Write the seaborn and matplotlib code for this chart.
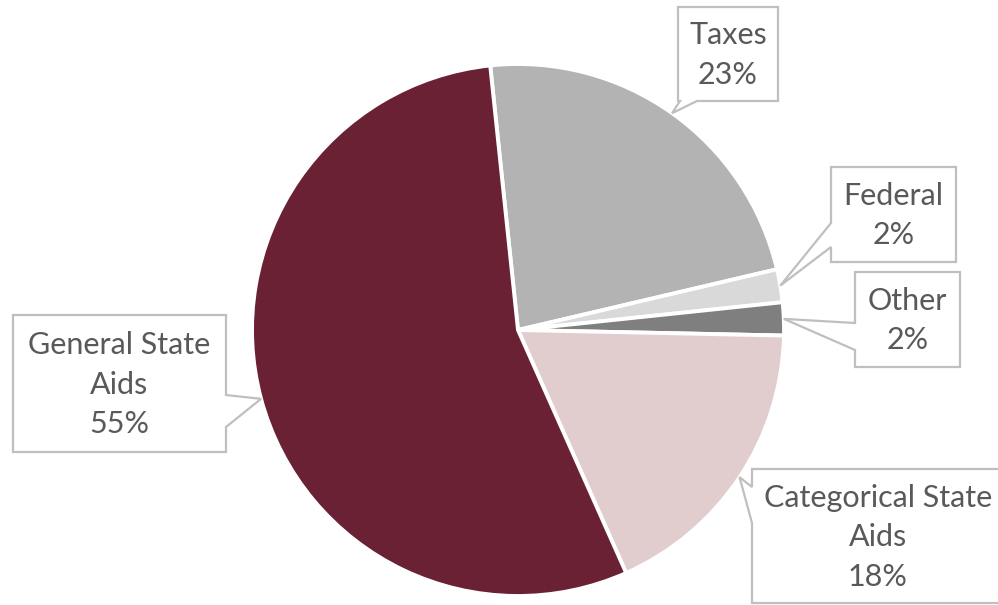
import numpy as np
import matplotlib
matplotlib.use("Agg")
import matplotlib.pyplot as plt
from matplotlib.patches import Polygon
import seaborn as sns

# Revenue sources, clockwise from the top of the pie
categories = ["Taxes", "Federal", "Other", "Categorical State\nAids", "General State\nAids"]
shares = [23, 2, 2, 18, 55]
colors = ["#B3B3B3", "#D9D9D9", "#7F7F7F", "#E1CDCD", "#6B2134"]
explode = [0, 0, 0.02, 0, 0]

sns.set_style("white")
plt.rcParams["font.family"] = ["Lato", "DejaVu Sans"]

W, H = 998, 605
fig = plt.figure(figsize=(W / 100, H / 100), dpi=100)
ax = fig.add_axes([0, 0, 1, 1])

cx, cy, r = 518, 330, 266  # pie centre / radius in pixel units (y measured downwards)
start = 96
wedges, _ = ax.pie(shares, colors=colors, startangle=start, counterclock=False,
                   center=(cx, H - cy), radius=r, explode=explode,
                   wedgeprops=dict(edgecolor="white", linewidth=2.8))
ax.set_xlim(0, W)
ax.set_ylim(0, H)
ax.set_aspect("equal")
ax.axis("off")

# callout boxes: (left, top, right, bottom), side of pointer, pointer base span
callouts = [
    ((678, 7, 778, 101), "bottom", (680, 697)),
    ((831, 167, 956, 262), "left", (223, 247)),
    ((855, 272, 960, 367), "left", (323, 350)),
    ((752, 469, 1004, 603), "left", (487, 523)),
    ((13, 315, 226, 452), "right", (395, 427)),
]


def bubble(box, side, span, tip):
    L, T, R, B = box
    a1, a2 = span
    if side == "bottom":
        pts = [(L, T), (R, T), (R, B), (a2, B), tip, (a1, B), (L, B)]
    elif side == "left":
        pts = [(L, T), (R, T), (R, B), (L, B), (L, a2), tip, (L, a1)]
    else:  # right
        pts = [(L, T), (R, T), (R, a1), tip, (R, a2), (R, B), (L, B)]
    return [(x, H - y) for x, y in pts]


for w, share, cat, (box, side, span) in zip(wedges, shares, categories, callouts):
    mid = np.deg2rad((w.theta1 + w.theta2) / 2)
    tip = (cx + r * np.cos(mid), cy - r * np.sin(mid))
    poly = Polygon(bubble(box, side, span, tip), closed=True, facecolor="white",
                   edgecolor="#BFBFBF", linewidth=1.6, joinstyle="miter", zorder=3)
    ax.add_patch(poly)
    L, T, R, B = box
    ax.text((L + R) / 2, H - (T + B) / 2 - 1, f"{cat}\n{share}%", ha="center", va="center",
            fontsize=22, color="#595959", linespacing=1.5, zorder=4)

fig.savefig("out.png", dpi=100)
